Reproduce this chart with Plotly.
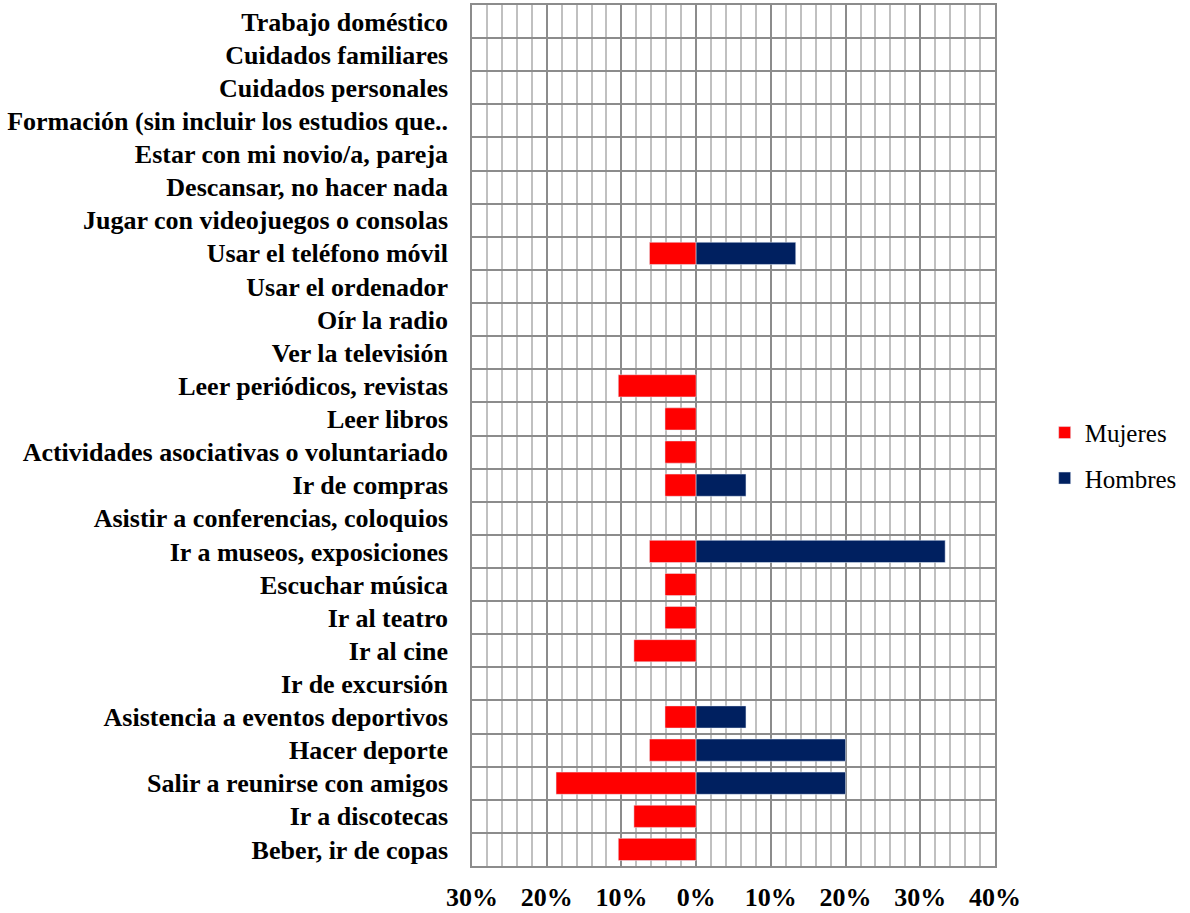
import plotly.graph_objects as go

categories = [
    "Trabajo doméstico", "Cuidados familiares", "Cuidados personales",
    "Formación (sin incluir los estudios que..", "Estar con mi novio/a, pareja",
    "Descansar, no hacer nada", "Jugar con videojuegos o consolas",
    "Usar el teléfono móvil", "Usar el ordenador", "Oír la radio",
    "Ver la televisión", "Leer periódicos, revistas", "Leer libros",
    "Actividades asociativas o voluntariado", "Ir de compras",
    "Asistir a conferencias, coloquios", "Ir a museos, exposiciones",
    "Escuchar música", "Ir al teatro", "Ir al cine", "Ir de excursión",
    "Asistencia a eventos deportivos", "Hacer deporte",
    "Salir a reunirse con amigos", "Ir a discotecas", "Beber, ir de copas",
]
mujeres = [0, 0, 0, 0, 0, 0, 0, 6.25, 0, 0, 0, 10.42, 4.17, 4.17, 4.17, 0,
           6.25, 4.17, 4.17, 8.33, 0, 4.17, 6.25, 18.75, 8.33, 10.42]
hombres = [0, 0, 0, 0, 0, 0, 0, 13.33, 0, 0, 0, 0, 0, 0, 6.67, 0,
           33.33, 0, 0, 0, 0, 6.67, 20.0, 20.0, 0, 0]
x_tickvals = [-30, -20, -10, 0, 10, 20, 30, 40]
x_ticktext = ["30%", "20%", "10%", "0%", "10%", "20%", "30%", "40%"]

ypos = list(range(len(categories)))
boundaries = [i + 0.5 for i in range(-1, len(categories))]

fig = go.Figure()
fig.add_trace(go.Bar(
    y=ypos, x=[(-v if v else None) for v in mujeres], orientation="h", name="Mujeres",
    legendgroup="m", marker=dict(color="#FF0000"),
))
fig.add_trace(go.Bar(
    y=ypos, x=[(v if v else None) for v in hombres], orientation="h", name="Hombres",
    legendgroup="h", marker=dict(color="#002060"),
))

serif = "Times New Roman, Liberation Serif, serif"
fig.update_layout(
    width=1190, height=913,
    barmode="relative", bargap=0.33,
    plot_bgcolor="white", paper_bgcolor="white",
    margin=dict(l=472, r=195, t=5, b=47, autoexpand=False),
    font=dict(family=serif, size=20, color="black"),
    legend=dict(x=1.095, y=0.477, yanchor="middle", xanchor="left",
                font=dict(family=serif, size=25, color="black"),
                tracegroupgap=10, itemwidth=30),
    xaxis=dict(
        range=[-30, 40], tickvals=x_tickvals, ticktext=x_ticktext,
        showgrid=True, gridcolor="#8c8c8c", gridwidth=1.5,
        minor=dict(dtick=2, tick0=0, showgrid=True, gridcolor="#c0c0c0", gridwidth=1.5),
        zeroline=False, showline=True, linecolor="#8c8c8c", linewidth=1.5, mirror=True,
        tickfont=dict(family=serif, size=26, color="black", weight="bold"),
        ticks="outside", ticklen=7, tickcolor="rgba(0,0,0,0)",
        automargin=False, fixedrange=True,
    ),
    yaxis=dict(
        range=[len(categories) - 0.5, -0.5], tickvals=ypos, ticktext=categories,
        showgrid=False, zeroline=False,
        minor=dict(tickmode="array", tickvals=boundaries, showgrid=True,
                   gridcolor="#8c8c8c", gridwidth=1.5),
        showline=True, linecolor="#8c8c8c", linewidth=1.5, mirror=True,
        tickfont=dict(family=serif, size=26, color="black", weight="bold"),
        ticks="outside", ticklen=17, tickcolor="rgba(0,0,0,0)",
        automargin=False, fixedrange=True,
    ),
)
fig.write_html("out.html", config={"displayModeBar": False},
               post_script="document.body.style.margin='0';")
